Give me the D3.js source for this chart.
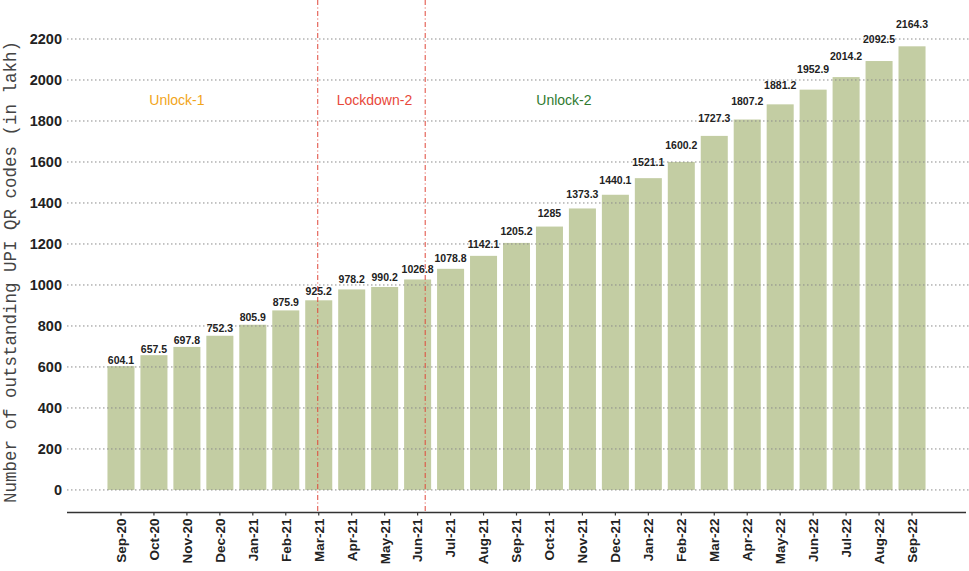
<!DOCTYPE html>
<html>
<head>
<meta charset="utf-8">
<script src="https://cdn.jsdelivr.net/npm/d3@7"></script>
<style>
  html, body { margin: 0; padding: 0; background: #fff; }
  svg { display: block; }
</style>
</head>
<body>
<svg id="chart" width="969" height="571"></svg>
<script>
const months = ["Sep-20","Oct-20","Nov-20","Dec-20","Jan-21","Feb-21","Mar-21","Apr-21","May-21","Jun-21","Jul-21","Aug-21","Sep-21","Oct-21","Nov-21","Dec-21","Jan-22","Feb-22","Mar-22","Apr-22","May-22","Jun-22","Jul-22","Aug-22","Sep-22"];
const values = [604.1, 657.5, 697.8, 752.3, 805.9, 875.9, 925.2, 978.2, 990.2, 1026.8, 1078.8, 1142.1, 1205.2, 1285, 1373.3, 1440.1, 1521.1, 1600.2, 1727.3, 1807.2, 1881.2, 1952.9, 2014.2, 2092.5, 2164.3];
const yTicks = [0, 200, 400, 600, 800, 1000, 1200, 1400, 1600, 1800, 2000, 2200];
const phaseBoundaries = ["Mar-21", "Jun-21"];
const phaseLabels = ["Unlock-1", "Lockdown-2", "Unlock-2"];
const phaseColors = ["#f2a51a", "#e8483a", "#2f7a2f"];
const yTitle = "Number of outstanding UPI QR codes (in lakh)";

const svg = d3.select("#chart");
const data = months.map((m, i) => ({ m, v: values[i] }));

const x = d3.scaleBand().domain(months).range([104.5, 928.5]).paddingInner(0.18).paddingOuter(0.09);
const y = d3.scaleLinear().domain([-110, 2200]).range([512.5, 39]);
const bw = x.bandwidth();
const cx = m => x(m) + bw / 2;

// bars
svg.append("g").selectAll("rect").data(data).join("rect")
  .attr("x", d => x(d.m)).attr("width", bw)
  .attr("y", d => y(d.v)).attr("height", d => y(0) - y(d.v))
  .attr("fill", "#c3cda3");

// gridlines (drawn over bars)
svg.append("g").selectAll("line").data(yTicks).join("line")
  .attr("x1", 67).attr("x2", 969)
  .attr("y1", d => y(d)).attr("y2", d => y(d))
  .attr("stroke", "#8a8a8a").attr("stroke-width", 1)
  .attr("stroke-dasharray", "1.5,2.5");

// y tick labels
svg.append("g").selectAll("text").data(yTicks).join("text")
  .attr("x", 62).attr("y", d => y(d)).attr("dy", "0.35em")
  .attr("text-anchor", "end")
  .attr("font-family", "Liberation Sans, Arial, sans-serif")
  .attr("font-weight", "bold").attr("font-size", 14.5)
  .attr("fill", "#222")
  .text(d => d);

// x axis
const xAxis = d3.axisBottom(x).tickSize(3).tickSizeOuter(0);
const gx = svg.append("g").attr("transform", `translate(0,${y(-110)})`).call(xAxis);
gx.select(".domain").remove();
gx.append("line").attr("x1", 67).attr("x2", 966).attr("y1", 0).attr("y2", 0)
  .attr("stroke", "#333").attr("stroke-width", 1.6);
gx.selectAll(".tick line").attr("stroke", "#333").attr("stroke-width", 1.2);
gx.selectAll(".tick text")
  .attr("transform", "rotate(-90)")
  .attr("x", -6).attr("y", 0).attr("dy", "0.36em")
  .attr("text-anchor", "end")
  .attr("font-family", "Liberation Sans, Arial, sans-serif")
  .attr("font-weight", "bold").attr("font-size", 13.5)
  .attr("fill", "#222");

// value labels (gap above bar grows with height, as in the reference)
svg.append("g").selectAll("text").data(data).join("text")
  .attr("x", d => cx(d.m)).attr("y", d => y(d.v) - (2 + (d.v - 600) * 0.0105))
  .attr("text-anchor", "middle")
  .attr("font-family", "Liberation Sans, Arial, sans-serif")
  .attr("font-weight", "bold").attr("font-size", 10.5)
  .attr("fill", "#222")
  .text(d => String(d.v));

// phase boundaries
const bx = [cx(phaseBoundaries[0]) - 1, cx(phaseBoundaries[1]) + bw * 0.28];
svg.append("g").selectAll("line").data(bx).join("line")
  .attr("x1", d => d).attr("x2", d => d)
  .attr("y1", 0).attr("y2", y(-110))
  .attr("stroke", "#e0473a").attr("stroke-width", 1)
  .attr("stroke-dasharray", "5,2.5,1,2.5");

// phase labels
const labelX = [cx("Nov-20") - 10, (bx[0] + bx[1]) / 2 + 3, (cx("Oct-21") + cx("Nov-21")) / 2 - 2];
svg.append("g").selectAll("text").data(phaseLabels).join("text")
  .attr("x", (d, i) => labelX[i]).attr("y", y(1900)).attr("dy", "0.35em")
  .attr("text-anchor", "middle")
  .attr("font-family", "Liberation Sans, Arial, sans-serif")
  .attr("font-size", 14)
  .attr("fill", (d, i) => phaseColors[i])
  .text(d => d);

// y title
svg.append("text")
  .attr("transform", `translate(10,${272}) rotate(-90)`)
  .attr("dy", "0.35em")
  .attr("text-anchor", "middle")
  .attr("font-family", "Liberation Mono, Courier New, monospace")
  .attr("font-size", 17.5)
  .attr("fill", "#444")
  .text(yTitle);
</script>
</body>
</html>
